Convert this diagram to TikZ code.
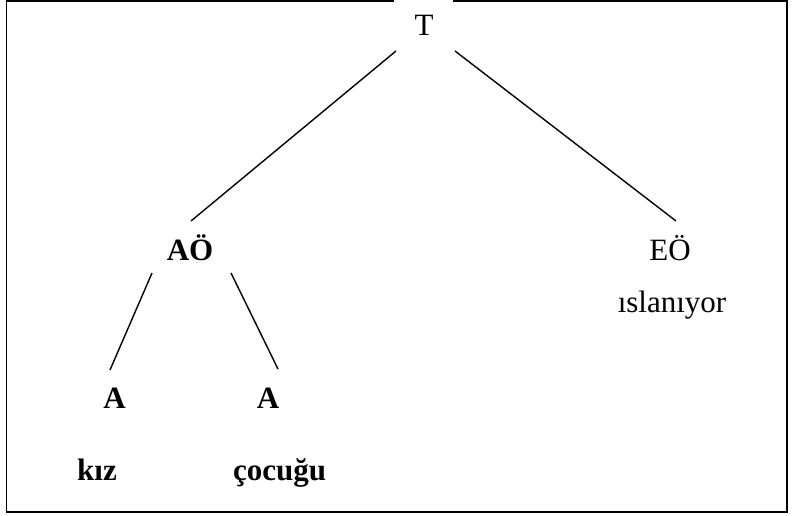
\documentclass[tikz,border=0pt]{standalone}
\usepackage{fontspec}
\setmainfont{Liberation Serif}
\begin{document}
\begin{tikzpicture}[x=1pt,y=1pt,
  lbl/.style={inner sep=0pt,anchor=base,font=\fontsize{31}{36}\selectfont},
  blbl/.style={lbl,font=\fontsize{31}{36}\selectfont\bfseries},
  edge/.style={line width=1.4pt},
  frame/.style={line width=1.8pt}]
\useasboundingbox (0,0) rectangle (792,515);
% frame
\coordinate (c1) at (394,514);
\coordinate (c2) at (6.5,514);
\coordinate (c3) at (6.5,3);
\coordinate (c4) at (787,3);
\coordinate (c5) at (787,514);
\coordinate (c6) at (453,514);
\draw[frame] (c1) -- (c2) -- (c3) -- (c4) -- (c5) -- (c6);
% nodes
\node[lbl] (T) at (424,479) {T};
\node[blbl] (AO) at (190,255) {AÖ};
\node[lbl] (EO) at (670,255) {EÖ};
\node[lbl] (isl) at (672,203) {ıslanıyor};
\node[blbl] (A1) at (114.5,107) {A};
\node[blbl] (A2) at (268,107) {A};
\node[blbl] (kiz) at (97,35) {kız};
\node[blbl] (coc) at (279.5,35) {çocuğu};
% edges
\coordinate (t1) at (396,464);
\coordinate (t2) at (455,464);
\coordinate (ao1) at (191,294);
\coordinate (eo1) at (676,294);
\coordinate (ao2) at (152,242);
\coordinate (ao3) at (231,242);
\coordinate (a1) at (110,145);
\coordinate (a2) at (278,146);
\draw[edge] (t1) -- (ao1);
\draw[edge] (t2) -- (eo1);
\draw[edge] (ao2) -- (a1);
\draw[edge] (ao3) -- (a2);
\end{tikzpicture}
\end{document}
